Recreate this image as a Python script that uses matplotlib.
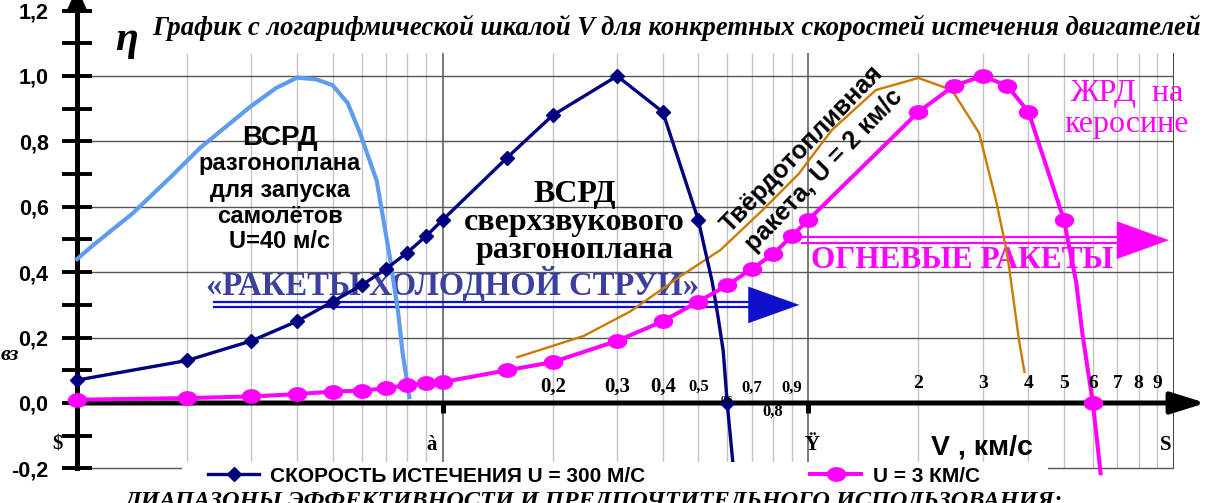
import numpy as np
import matplotlib.pyplot as plt
from matplotlib.path import Path
from matplotlib.patches import Rectangle

plt.rcParams['font.family'] = ['Liberation Sans', 'DejaVu Sans']
SERIF = ['Liberation Serif', 'DejaVu Serif']

# U = 300 m/s, measured points plus the drop after 0.5 km/s
v_300 = [0.01, 0.02, 0.03, 0.04, 0.05, 0.06, 0.07, 0.08, 0.09, 0.1,
         0.15, 0.2, 0.3, 0.4, 0.5, 0.546, 0.567, 0.585, 0.6, 0.63]
eta_300 = [0.07, 0.13, 0.19, 0.25, 0.31, 0.36, 0.41, 0.46, 0.51, 0.56,
           0.75, 0.88, 1.0, 0.89, 0.56, 0.37, 0.26, 0.16, 0.0, -0.25]
marks_300 = [0, 1, 2, 3, 4, 5, 6, 7, 8, 9, 10, 11, 12, 13, 14, 18]

# U = 3 km/s (kerosene LRE)
v_3k = [0.01, 0.02, 0.03, 0.04, 0.05, 0.06, 0.07, 0.08, 0.09, 0.1,
        0.15, 0.2, 0.3, 0.4, 0.5, 0.6, 0.7, 0.8, 0.9, 1.0,
        2.0, 2.5, 3.0, 3.5, 4.0, 5.0, 5.4, 5.62, 6.0, 6.3]
eta_3k = [0.01, 0.015, 0.02, 0.027, 0.035, 0.038, 0.045, 0.055, 0.06, 0.064,
          0.10, 0.125, 0.19, 0.25, 0.31, 0.36, 0.41, 0.455, 0.51, 0.56,
          0.89, 0.97, 1.0, 0.97, 0.89, 0.56, 0.37, 0.21, 0.0, -0.215]
marks_3k = [i for i in range(len(v_3k)) if i not in (26, 27, 29)]

# U = 40 m/s (booster ramjet for aircraft launch)
v_40 = [0.01, 0.011, 0.0142, 0.018, 0.0217, 0.0297, 0.035, 0.04, 0.045,
        0.05, 0.055, 0.0594, 0.066, 0.0716, 0.0755, 0.0777, 0.0811]
eta_40 = [0.44, 0.48, 0.58, 0.69, 0.78, 0.905, 0.963, 0.995, 0.99,
          0.972, 0.917, 0.826, 0.68, 0.45, 0.28, 0.153, 0.018]

# U = 2 km/s (solid rocket)
v_2k = [0.16, 0.243, 0.326, 0.45, 0.575, 0.75, 0.94, 1.16, 1.53, 2.0, 2.47,
        2.93, 3.26, 3.48, 3.54, 3.77, 3.9]
eta_2k = [0.14, 0.205, 0.28, 0.39, 0.468, 0.59, 0.70, 0.835, 0.957, 0.994, 0.957,
          0.826, 0.62, 0.468, 0.416, 0.19, 0.095]

y_major = [-0.2, 0.0, 0.2, 0.4, 0.6, 0.8, 1.0, 1.2]
y_labels = ['-0,2', '0,0', '0,2', '0,4', '0,6', '0,8', '1,0', '1,2']

# x labels written along the axis: (text, value, height, size)
x_labels = [('0,2', 0.2, 0.049, 15), ('0,3', 0.3, 0.049, 15), ('0,4', 0.4, 0.049, 15),
            ('0,5', 0.5, 0.049, 12), ('0,6', 0.6, 0.009, 7), ('0,7', 0.7, 0.046, 12),
            ('0,8', 0.8, -0.028, 12), ('0,9', 0.9, 0.046, 12),
            ('2', 2, 0.061, 14), ('3', 3, 0.061, 14), ('4', 4, 0.061, 14),
            ('5', 5, 0.061, 14), ('6', 6, 0.061, 14), ('7', 7, 0.061, 14),
            ('8', 8, 0.061, 14), ('9', 9, 0.061, 14)]
decade_labels = [('$', 0.00882), ('à', 0.0934), ('Ÿ', 1.026), ('S', 9.51)]

W, H = 1207, 503
fig = plt.figure(figsize=(W / 100, H / 100), dpi=100)
ax = fig.add_axes([77 / W, (H - 478.2) / H, 1097 / W, 467.6 / H])
ax.set_xscale('log')
ax.set_xlim(0.01, 10)
ax.set_ylim(-0.23, 1.2)

# grid: light minor lines, darker decades, dark horizontal lines
minor = [k * 10.0 ** d for d in (-2, -1, 0) for k in range(2, 10)]
ax.vlines(minor, -0.2, 1.07, color='#c4c4c4', lw=1, zorder=1)
ax.vlines([0.1, 1], -0.2, 1.07, color='#555555', lw=1.1, zorder=1)
ax.vlines([10], -0.2, 1.07, color='#333333', lw=1.3, zorder=1)
ax.hlines([-0.2, 0.2, 0.4, 0.6, 0.8, 1.0], 0.01, 10, color='#555555', lw=1, zorder=1)

# axes with arrows
for s in ('top', 'right', 'bottom'):
    ax.spines[s].set_visible(False)
ax.spines['left'].set_linewidth(3.6)
ax.spines['left'].set_bounds(-0.2, 1.2)
ax.annotate('', xy=(0.01, 1.27), xytext=(0.01, 1.195), annotation_clip=False,
            arrowprops=dict(arrowstyle='-|>,head_length=0.8,head_width=0.36',
                            mutation_scale=20, lw=1, color='black',
                            shrinkA=0, shrinkB=0))
ax.annotate('', xy=(12.2, 0), xytext=(0.01, 0), annotation_clip=False,
            arrowprops=dict(arrowstyle='-|>,head_length=1.05,head_width=0.33',
                            mutation_scale=20, lw=3.6, color='black',
                            shrinkA=0, shrinkB=0), zorder=2)
ax.vlines([0.1, 1], -0.031, 0, color='black', lw=3.6, zorder=2)

ax.set_yticks(y_major, y_labels, fontsize=15.5, fontweight='bold')
ax.set_yticks(np.arange(-0.2, 1.21, 0.1), minor=True)
ax.tick_params(axis='y', which='both', direction='inout', length=21, width=2.8, pad=10)
ax.tick_params(axis='x', which='both', bottom=False, labelbottom=False)

for txt, v, h, fs in x_labels:
    ax.text(v, h, txt, ha='center', va='center', fontsize=fs, fontweight='bold',
            family=SERIF, zorder=5)
for txt, v in decade_labels:
    ax.text(v, -0.128, txt, ha='center', va='center', fontsize=15, fontweight='bold',
            family=SERIF, zorder=5)
ax.text(2.168, -0.135, 'V , км/с', ha='left', va='center', fontsize=20.5,
        fontweight='bold', zorder=5)
ax.text(0.0137, 1.11, 'η', ha='center', va='center', fontsize=30,
        fontweight='bold', style='italic', family=SERIF)

# series
t = np.linspace(0, 2 * np.pi, 41)
ellipse = Path(np.column_stack([1.35 * np.cos(t), np.sin(t)]), closed=True)

ax.plot(v_40, eta_40, color='#5f9bef', lw=3, zorder=3, clip_on=False)
ax.plot(v_2k, eta_2k, color='#cc7a00', lw=1.7, zorder=3, clip_on=False)
l300, = ax.plot(v_300, eta_300, color='#000080', lw=2.4, marker='D', ms=6.8,
                markevery=marks_300, zorder=4, clip_on=False)
l3k, = ax.plot(v_3k, eta_3k, color='#ff00ff', lw=2.9, marker=ellipse, ms=13,
               markevery=marks_3k, zorder=4, clip_on=False)

# range arrows
ax.hlines([0.309, 0.294], 0.0235, 0.69, color='#1010cc', lw=1.6, zorder=2)
ax.annotate('', xy=(0.945, 0.30), xytext=(0.686, 0.30),
            arrowprops=dict(arrowstyle='-|>,head_length=0.92,head_width=0.33',
                            mutation_scale=40, lw=0, color='#1010cc',
                            shrinkA=0, shrinkB=0), zorder=2)
ax.hlines([0.508, 0.489], 0.957, 7.0, color='#ff00ff', lw=1.6, zorder=2)
ax.annotate('', xy=(9.69, 0.498), xytext=(6.99, 0.498),
            arrowprops=dict(arrowstyle='-|>,head_length=0.94,head_width=0.34',
                            mutation_scale=40, lw=0, color='#ff00ff',
                            shrinkA=0, shrinkB=0), zorder=2)

ax.text(0.1065, 0.330, '«РАКЕТЫ ХОЛОДНОЙ СТРУИ»', ha='center', va='baseline',
        fontsize=23.5, fontweight='bold', family=SERIF, color='#3b3f9e', zorder=2)
ax.text(2.635, 0.413, 'ОГНЕВЫЕ РАКЕТЫ', ha='center', va='baseline',
        fontsize=22.5, fontweight='bold', family=SERIF, color='#ff00ff', zorder=2)

# curve captions
for txt, h, fs in [('ВСРД', 0.789, 20), ('разгоноплана', 0.713, 17),
                   ('для запуска', 0.630, 17), ('самолётов', 0.550, 17),
                   ('U=40 м/с', 0.474, 17)]:
    ax.text(0.0359, h, txt, ha='center', va='baseline', fontsize=fs,
            fontweight='bold', zorder=5)
for txt, h in [('ВСРД', 0.615), ('сверхзвукового', 0.529), ('разгоноплана', 0.443)]:
    ax.text(0.2295, h, txt, ha='center', va='baseline', fontsize=23,
            fontweight='bold', family=SERIF, zorder=5)
ax.text(1.03, 0.743, 'Твёрдотопливная\nракета, U = 2 км/с', ha='center', va='center',
        rotation=46, rotation_mode='anchor', fontsize=18, fontweight='bold',
        linespacing=1.35, zorder=5)
for txt, h in [('ЖРД  на', 0.924), ('керосине', 0.829)]:
    ax.text(7.44, h, txt, ha='center', va='baseline', fontsize=23,
            family=SERIF, color='#ff00ff', zorder=5)

# figure-level texts
fig.text(677 / W, 1 - 28 / H,
         'График с логарифмической шкалой V для конкретных скоростей истечения двигателей',
         ha='center', va='center', fontsize=19.2, fontweight='bold', style='italic',
         family=SERIF)
fig.text(1 / W, 1 - 355 / H, 'вз', ha='left', va='center', fontsize=16,
         fontweight='bold', style='italic', family=SERIF)

fig.add_artist(Rectangle((182 / W, 0), 866 / W, 41 / H, transform=fig.transFigure,
                         facecolor='white', edgecolor='none', zorder=3))
fig.legend([l300, l3k], ['СКОРОСТЬ ИСТЕЧЕНИЯ U = 300 М/С', 'U = 3 КМ/С'],
           loc='center left', bbox_to_anchor=(208 / W, 1 - 476 / H), ncol=2,
           frameon=False, borderpad=0, borderaxespad=0, handlelength=2.45,
           handletextpad=0.55, columnspacing=7.9, numpoints=1,
           prop=dict(family='Liberation Sans', weight='bold', size=15))
fig.text(125 / W, 1 - 507 / H,
         'ДИАПАЗОНЫ ЭФФЕКТИВНОСТИ И ПРЕДПОЧТИТЕЛЬНОГО ИСПОЛЬЗОВАНИЯ:',
         ha='left', va='baseline', fontsize=17.5, fontweight='bold', style='italic',
         family=SERIF, zorder=6)

fig.savefig('out.png', dpi=100)
